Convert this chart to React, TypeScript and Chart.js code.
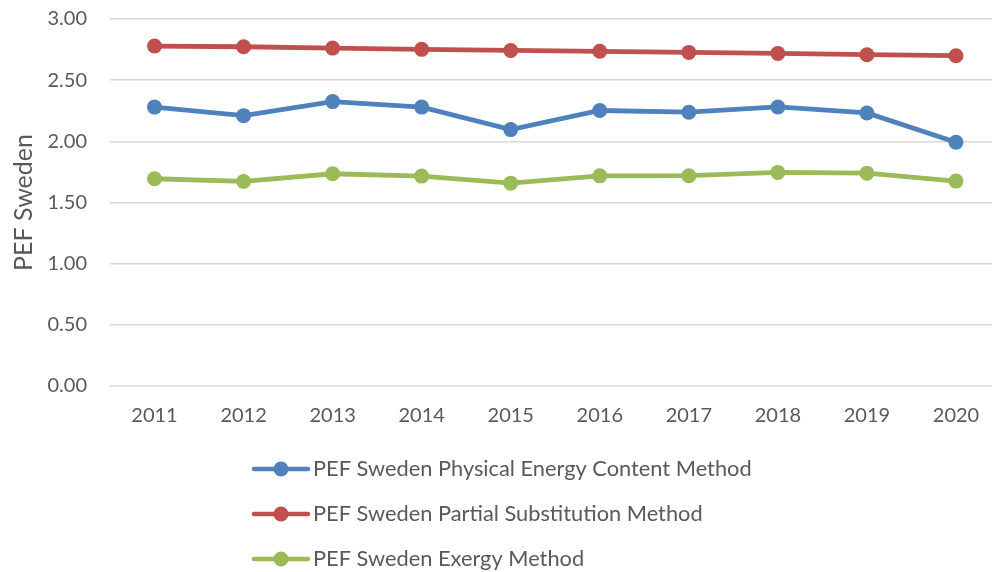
import React, { useEffect, useRef } from "react";
import { Chart, registerables } from "chart.js";

Chart.register(...registerables);

const years = ["2011", "2012", "2013", "2014", "2015", "2016", "2017", "2018", "2019", "2020"];
const physicalEnergy = [2.28, 2.21, 2.325, 2.28, 2.096, 2.252, 2.238, 2.281, 2.232, 1.992];
const partialSubstitution = [2.779, 2.773, 2.762, 2.752, 2.743, 2.736, 2.727, 2.719, 2.708, 2.7];
const exergy = [1.694, 1.672, 1.735, 1.716, 1.658, 1.718, 1.719, 1.746, 1.74, 1.675];
const seriesNames = [
  "PEF Sweden Physical Energy Content Method",
  "PEF Sweden Partial Substitution Method",
  "PEF Sweden Exergy Method",
];
const seriesColors = ["#4f81bd", "#c0504d", "#9bbb59"];
const yTitle = "PEF Sweden";

const FONT = "Lato";
const TEXT = "#595959";

const legendPlugin = {
  id: "stackedLegend",
  afterDraw(chart: any) {
    const ctx = chart.ctx;
    ctx.save();
    chart.data.datasets.forEach((ds: any, i: number) => {
      const y = 469 + i * 45;
      ctx.strokeStyle = ds.borderColor;
      ctx.lineWidth = 4.5;
      ctx.lineCap = "round";
      ctx.beginPath();
      ctx.moveTo(254, y);
      ctx.lineTo(308, y);
      ctx.stroke();
      ctx.fillStyle = ds.borderColor;
      ctx.beginPath();
      ctx.arc(281, y, 7.5, 0, Math.PI * 2);
      ctx.fill();
      ctx.fillStyle = TEXT;
      ctx.font = `21.8px ${FONT}`;
      ctx.textBaseline = "middle";
      ctx.textAlign = "left";
      ctx.fillText(ds.label, 313, y);
    });
    ctx.restore();
  },
};

export default function App() {
  const ref = useRef<HTMLCanvasElement | null>(null);
  useEffect(() => {
    if (!ref.current) return;
    const data = [physicalEnergy, partialSubstitution, exergy];
    const chart = new Chart(ref.current, {
      type: "line",
      data: {
        labels: years,
        datasets: data.map((d, i) => ({
          label: seriesNames[i],
          data: d,
          borderColor: seriesColors[i],
          backgroundColor: seriesColors[i],
          borderWidth: 4.8,
          pointRadius: 7.5,
          pointHoverRadius: 7.5,
          pointBorderWidth: 0,
          pointBackgroundColor: seriesColors[i],
          tension: 0,
        })),
      },
      options: {
        animation: false,
        responsive: false,
        maintainAspectRatio: false,
        events: [],
        layout: { padding: { top: 19, bottom: 126, left: 0, right: 0 } },
        plugins: { legend: { display: false }, tooltip: { enabled: false } },
        scales: {
          x: {
            offset: true,
            grid: { display: false, drawTicks: false },
            border: { display: false },
            ticks: { color: TEXT, font: { family: FONT, size: 20 }, padding: 18 },
          },
          y: {
            min: 0,
            max: 3,
            afterFit: (s: any) => {
              s.width = 110;
            },
            ticks: {
              stepSize: 0.5,
              color: TEXT,
              font: { family: FONT, size: 20 },
              padding: 0,
              callback: (v: any) => Number(v).toFixed(2),
            },
            grid: {
              color: "#d9d9d9",
              lineWidth: 1.5,
              drawTicks: true,
              tickLength: 23,
              tickColor: "rgba(0,0,0,0)",
            },
            border: { display: false },
            title: {
              display: true,
              text: yTitle,
              color: TEXT,
              font: { family: FONT, size: 25 },
              padding: { top: 9, bottom: 0 },
            },
          },
        },
      },
      plugins: [legendPlugin],
    });
    return () => chart.destroy();
  }, []);
  return (
    <div style={{ position: "fixed", left: 0, top: 0, width: 992, height: 572, overflow: "hidden", background: "#fff" }}>
      <canvas ref={ref} width={1008} height={572} style={{ width: 1008, height: 572, display: "block" }} />
    </div>
  );
}
